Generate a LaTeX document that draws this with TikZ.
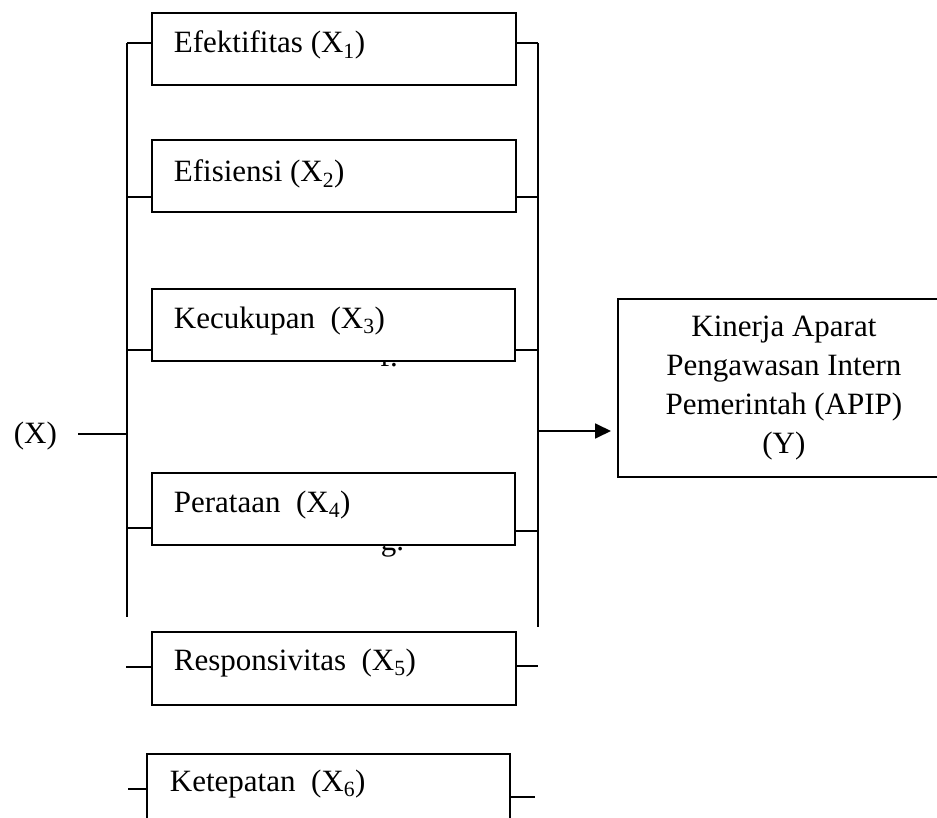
\documentclass[tikz,border=0pt]{standalone}
\usepackage{fontspec}
\setmainfont{Liberation Serif}
\usetikzlibrary{arrows.meta}
\begin{document}
\begin{tikzpicture}[x=1pt,y=-1pt,line width=1.8pt,
  every node/.style={font=\fontsize{31}{39}\selectfont},
  box/.style={draw, fill=white, anchor=north west, minimum height=72pt, inner sep=0pt},
  lbl/.style={anchor=base west, inner sep=0pt},
  link/.style={line width=1.8pt},
  arrowlink/.style={line width=1.8pt, -{Triangle[length=16pt,width=15pt]}, shorten >=6pt}]
\useasboundingbox (0,0) rectangle (937,818);
\clip (0,0) rectangle (937,818);
% partially hidden list markers
\node[lbl] (f) at (379,366) {f.};
\node[lbl] (g) at (380,550) {g.};
% boxes
\node[box, minimum width=364pt] (b1) at (151,12) {};
\node[box, minimum width=364pt] (b2) at (151,139) {};
\node[box, minimum width=363pt] (b3) at (151,288) {};
\node[box, minimum width=363pt] (b4) at (151,472) {};
\node[box, minimum width=364pt, minimum height=73pt] (b5) at (151,631) {};
\node[box, minimum width=363pt] (b6) at (146,753) {};
\node[lbl] (t1) at (173,53) {Efektifitas (X\textsubscript{1})};
\node[lbl] (t2) at (173,182) {Efisiensi (X\textsubscript{2})};
\node[lbl] (t3) at (173,328) {Kecukupan\ \ (X\textsubscript{3})};
\node[lbl] (t4) at (173,512) {Perataan\ \ (X\textsubscript{4})};
\node[lbl] (t5) at (173,670) {Responsivitas\ \ (X\textsubscript{5})};
\node[lbl] (t6) at (169,791) {Ketepatan\ \ (X\textsubscript{6})};
\node[draw, anchor=north west, minimum width=332pt, minimum height=178pt, align=center, inner sep=0pt] (Y) at (617,298)
  {Kinerja Aparat\\Pengawasan Intern\\Pemerintah (APIP)\\(Y)};
\node[lbl] (X) at (13,443) {(X)};
% bus lines
\coordinate (Ltop) at (127,43);
\coordinate (Lbot) at (127,617);
\coordinate (Rtop) at (538,43);
\coordinate (Rbot) at (538,627);
\draw[link] (Ltop) -- (Lbot);
\draw[link] (Rtop) -- (Rbot);
% left ticks
\draw[link] (Ltop) -- (Ltop -| b1.west);
\coordinate (L2) at (127,197); \draw[link] (L2) -- (L2 -| b2.west);
\coordinate (L3) at (127,350); \draw[link] (L3) -- (L3 -| b3.west);
\coordinate (L4) at (127,528); \draw[link] (L4) -- (L4 -| b4.west);
\coordinate (L5) at (126,667); \draw[link] (L5) -- (L5 -| b5.west);
\coordinate (L6) at (128,789); \draw[link] (L6) -- (L6 -| b6.west);
% right ticks
\draw[link] (Rtop -| b1.east) -- (Rtop);
\coordinate (R2) at (538,197); \draw[link] (R2 -| b2.east) -- (R2);
\coordinate (R3) at (538,350); \draw[link] (R3 -| b3.east) -- (R3);
\coordinate (R4) at (538,531); \draw[link] (R4 -| b4.east) -- (R4);
\coordinate (R5) at (538,666); \draw[link] (R5 -| b5.east) -- (R5);
\coordinate (R6) at (535,797); \draw[link] (R6 -| b6.east) -- (R6);
% input line
\coordinate (Xin) at (78,434);
\draw[link] (Xin) -- (Xin -| Ltop);
% output arrow
\coordinate (A) at (539,431);
\draw[arrowlink] (A) -- (A -| Y.west);
\end{tikzpicture}
\end{document}
